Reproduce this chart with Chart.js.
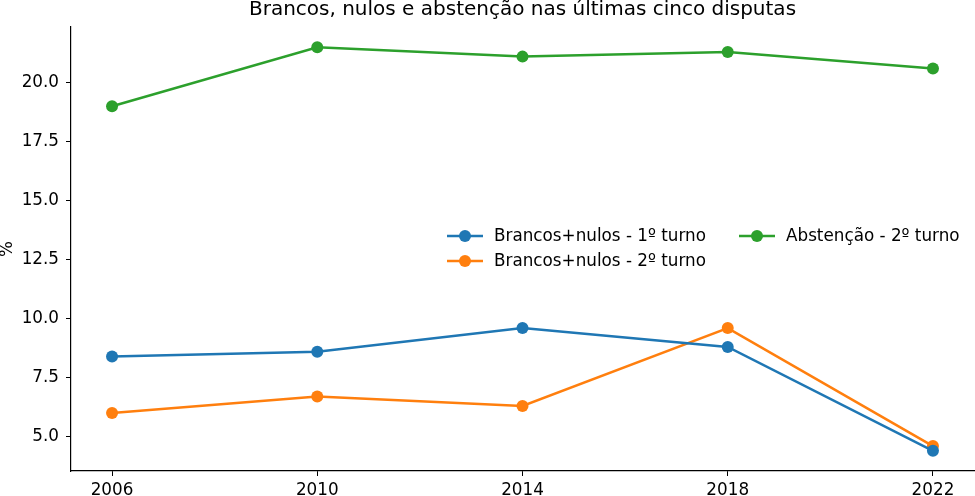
<!DOCTYPE html>
<html>
<head>
<meta charset="utf-8">
<script src="https://cdn.jsdelivr.net/npm/chart.js@4"></script>
<style>
  body { margin: 0; background: #fff; }
  #wrap { width: 975px; height: 496px; position: relative; }
</style>
</head>
<body>
<div id="wrap"><canvas id="votosChart"></canvas></div>
<script>
// anos das disputas
const anos = [2006, 2010, 2014, 2018, 2022];

// valores em %
const brancosNulos1 = [8.4, 8.6, 9.6, 8.8, 4.4];
const brancosNulos2 = [6.0, 6.7, 6.3, 9.6, 4.6];
const abstencao2 = [19.0, 21.5, 21.1, 21.3, 20.6];

const yTicks = [5.0, 7.5, 10.0, 12.5, 15.0, 17.5, 20.0];

const titulo = 'Brancos, nulos e abstenção nas últimas cinco disputas';
const fonte = 'DejaVu Sans';

const serie = (label, vals, cor) => ({
    label: label,
    data: anos.map((a, i) => ({ x: a, y: vals[i] })),
    borderColor: cor,
    backgroundColor: cor,
    borderWidth: 2.5,
    pointRadius: 6,
    pointHoverRadius: 6,
    pointBorderWidth: 0,
    tension: 0
});

const datasets = [
    serie('Brancos+nulos - 1º turno', brancosNulos1, '#1f77b4'),
    serie('Brancos+nulos - 2º turno', brancosNulos2, '#ff7f0e'),
    serie('Abstenção - 2º turno', abstencao2, '#2ca02c')
];

// título, rótulo do eixo y e legenda dentro do gráfico
const extras = {
    id: 'extras',
    afterDraw(chart) {
        const ctx = chart.ctx;
        const area = chart.chartArea;
        ctx.save();
        ctx.fillStyle = '#000';
        ctx.font = '20px "' + fonte + '"';
        ctx.textAlign = 'center';
        ctx.textBaseline = 'middle';
        ctx.fillText(titulo, (area.left + area.right) / 2, 10);

        ctx.save();
        ctx.translate(8, (area.top + area.bottom) / 2);
        ctx.rotate(-Math.PI / 2);
        ctx.font = '16.8px "' + fonte + '"';
        ctx.fillText('%', 0, 0);
        ctx.restore();

        // legenda em duas colunas
        const pos = [[447, 236], [447, 261], [739, 236]];
        ctx.font = '16.8px "' + fonte + '"';
        ctx.textAlign = 'left';
        datasets.forEach((ds, i) => {
            const [x, y] = pos[i];
            ctx.strokeStyle = ds.borderColor;
            ctx.lineWidth = 2.5;
            ctx.beginPath();
            ctx.moveTo(x, y);
            ctx.lineTo(x + 36, y);
            ctx.stroke();
            ctx.fillStyle = ds.borderColor;
            ctx.beginPath();
            ctx.arc(x + 18, y, 6, 0, Math.PI * 2);
            ctx.fill();
            ctx.fillStyle = '#000';
            ctx.fillText(ds.label, x + 47, y + 1);
        });
        ctx.restore();
    }
};

const ctx = document.getElementById('votosChart').getContext('2d');
const votosChart = new Chart(ctx, {
    type: 'line',
    data: { datasets: datasets },
    options: {
        responsive: true,
        maintainAspectRatio: false,
        animation: false,
        layout: { autoPadding: false, padding: { top: 27, right: 1, left: 0, bottom: 0 } },
        plugins: {
            legend: { display: false },
            title: { display: false },
            tooltip: { enabled: false }
        },
        scales: {
            x: {
                type: 'linear',
                min: 2005.2,
                max: 2022.8,
                afterBuildTicks: s => { s.ticks = anos.map(v => ({ value: v })); },
                afterFit: s => { s.height = 25; s.paddingLeft = 0; s.paddingRight = 0; },
                grid: { drawOnChartArea: false, tickLength: 5, color: '#000', tickWidth: 1 },
                border: { color: '#000', width: 1.2 },
                ticks: {
                    color: '#000',
                    padding: 5,
                    font: { family: fonte, size: 16.8 },
                    callback: v => String(v)
                }
            },
            y: {
                min: 3.545,
                max: 22.355,
                afterBuildTicks: s => { s.ticks = yTicks.map(v => ({ value: v })); },
                afterFit: s => { s.width = 71; s.paddingTop = 0; s.paddingBottom = 0; },
                grid: { drawOnChartArea: false, tickLength: 5, color: '#000', tickWidth: 1 },
                border: { color: '#000', width: 1.2 },
                ticks: {
                    color: '#000',
                    padding: 7,
                    font: { family: fonte, size: 16.8 },
                    callback: v => v.toFixed(1)
                }
            }
        }
    },
    plugins: [extras]
});
</script>
</body>
</html>
